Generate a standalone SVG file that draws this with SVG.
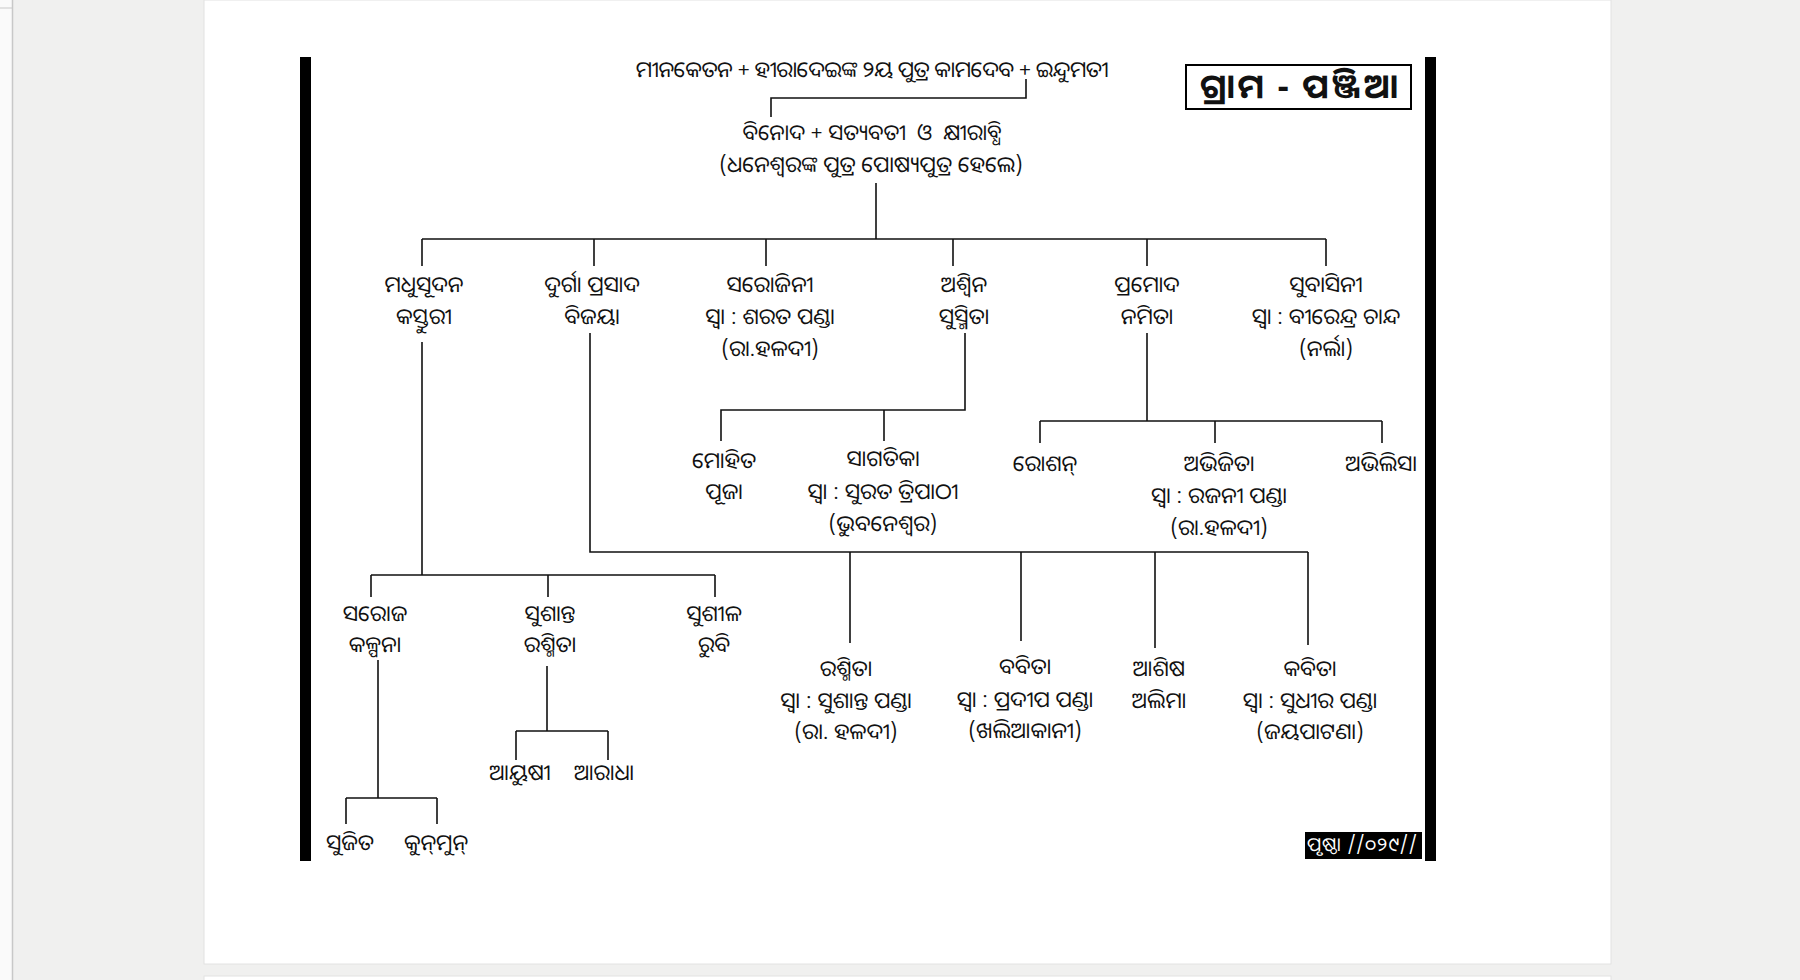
<svg xmlns="http://www.w3.org/2000/svg" width="1800" height="980" viewBox="0 0 1800 980">
<style>
text{font-family:"Noto Sans Oriya","Noto Sans Odia","Lohit Odia","Noto Sans",sans-serif;font-size:22px;fill:#111;text-anchor:middle}
.ln{fill:none;stroke:#111;stroke-width:1.6}
.title{font-size:34px;font-weight:bold}
.pg{font-size:19px;fill:#fff}
</style>
<rect x="0" y="0" width="1800" height="980" fill="#f0f0ef"/>
<rect x="0" y="0" width="12" height="980" fill="#fafafa"/>
<line x1="12.5" y1="0" x2="12.5" y2="980" stroke="#c8c8c8" stroke-width="1.5"/>
<line x1="0" y1="8" x2="12" y2="8" stroke="#c8c8c8" stroke-width="1"/>
<rect x="204" y="0" width="1407" height="964" fill="#ffffff" stroke="#e2e2e2" stroke-width="1"/>
<rect x="204" y="976" width="1407" height="10" fill="#ffffff" stroke="#e2e2e2" stroke-width="1"/>
<rect x="300" y="57" width="11" height="804" fill="#000"/>
<rect x="1425" y="57" width="11" height="804" fill="#000"/>
<g id="title">
<rect x="1186" y="65" width="225" height="44" fill="#fff" stroke="#000" stroke-width="2"/>
<text class="title" x="1299" y="98" textLength="198" lengthAdjust="spacing">ଗ୍ରାମ - ପଞ୍ଜିଆ</text>
</g>
<g id="page">
<rect x="1305" y="832" width="117" height="27" fill="#000"/>
<text class="pg" x="1362" y="851" textLength="110" lengthAdjust="spacing">ପୃଷ୍ଠା //୦୨୯//</text>
</g>
<g id="connectors">
<path class="ln" d="M1026,79 V98 H771 V117"/>
<path class="ln" d="M876,183 V239 M422,239 H1326 M422,239 V266 M594,239 V266 M766,239 V266 M953,239 V266 M1147,239 V266 M1326,239 V266"/>
<path class="ln" d="M422,342 V575 M371,575 H715 M371,575 V597 M548,575 V597 M715,575 V597"/>
<path class="ln" d="M590,333 V552 H1308 M850,552 V643 M1021,552 V641 M1155,552 V648 M1308,552 V645"/>
<path class="ln" d="M965,333 V410 H721 V441 M884,410 V441"/>
<path class="ln" d="M1147,333 V421 M1040,421 H1382 M1040,421 V443 M1215,421 V443 M1382,421 V443"/>
<path class="ln" d="M378,660 V798 M346,798 H437 M346,798 V824 M437,798 V824"/>
<path class="ln" d="M547,666 V731 M516,731 H608 M516,731 V760 M608,731 V760"/>
</g>
<g id="n-top">
<text x="872" y="77" textLength="473" lengthAdjust="spacing">ମୀନକେତନ + ହୀରାଦେଇଙ୍କ ୨ୟ ପୁତ୍ର କାମଦେବ + ଇନ୍ଦୁମତୀ</text>
</g>
<g id="n-binod">
<text x="872" y="140" textLength="259" lengthAdjust="spacingAndGlyphs" xml:space="preserve">ବିନୋଦ + ସତ୍ୟବତୀ  ଓ  କ୍ଷୀରାବ୍ଧି</text>
<text x="871" y="172">(ଧନେଶ୍ୱରଙ୍କ ପୁତ୍ର ପୋଷ୍ୟପୁତ୍ର ହେଲେ)</text>
</g>
<g id="n-madhusudan">
<text x="424" y="292">ମଧୁସୂଦନ</text>
<text x="424" y="324">କସ୍ତୁରୀ</text>
</g>
<g id="n-durga">
<text x="592" y="292">ଦୁର୍ଗା ପ୍ରସାଦ</text>
<text x="592" y="324">ବିଜୟା</text>
</g>
<g id="n-sarojini">
<text x="770" y="292">ସରୋଜିନୀ</text>
<text x="770" y="324">ସ୍ୱା : ଶରତ ପଣ୍ଡା</text>
<text x="770" y="356">(ରା.ହଳଦୀ)</text>
</g>
<g id="n-ashwin">
<text x="964" y="292">ଅଶ୍ୱିନ</text>
<text x="964" y="324">ସୁସ୍ମିତା</text>
</g>
<g id="n-pramod">
<text x="1147" y="292">ପ୍ରମୋଦ</text>
<text x="1147" y="324">ନମିତା</text>
</g>
<g id="n-subasini">
<text x="1326" y="292">ସୁବାସିନୀ</text>
<text x="1326" y="324">ସ୍ୱା : ବୀରେନ୍ଦ୍ର ଚାନ୍ଦ</text>
<text x="1326" y="356">(ନର୍ଲା)</text>
</g>
<g id="n-mohit">
<text x="724" y="468">ମୋହିତ</text>
<text x="724" y="499">ପୂଜା</text>
</g>
<g id="n-sagatika">
<text x="883" y="466">ସାଗତିକା</text>
<text x="883" y="499">ସ୍ୱା : ସୁରତ ତ୍ରିପାଠୀ</text>
<text x="883" y="531">(ଭୁବନେଶ୍ୱର)</text>
</g>
<g id="n-roshan">
<text x="1045" y="471">ରୋଶନ୍</text>
</g>
<g id="n-abhijita">
<text x="1219" y="471">ଅଭିଜିତା</text>
<text x="1219" y="503">ସ୍ୱା : ରଜନୀ ପଣ୍ଡା</text>
<text x="1219" y="535">(ରା.ହଳଦୀ)</text>
</g>
<g id="n-abhilisa">
<text x="1381" y="471">ଅଭିଲିସା</text>
</g>
<g id="n-saroj">
<text x="375" y="621">ସରୋଜ</text>
<text x="375" y="652">କଳ୍ପନା</text>
</g>
<g id="n-sushanta">
<text x="550" y="621">ସୁଶାନ୍ତ</text>
<text x="550" y="652">ରଶ୍ମିତା</text>
</g>
<g id="n-sushil">
<text x="714" y="621">ସୁଶୀଳ</text>
<text x="714" y="652">ରୁବି</text>
</g>
<g id="n-rashmita">
<text x="846" y="676">ରଶ୍ମିତା</text>
<text x="846" y="708">ସ୍ୱା : ସୁଶାନ୍ତ ପଣ୍ଡା</text>
<text x="846" y="739">(ରା. ହଳଦୀ)</text>
</g>
<g id="n-babita">
<text x="1025" y="674">ବବିତା</text>
<text x="1025" y="707">ସ୍ୱା : ପ୍ରଦୀପ ପଣ୍ଡା</text>
<text x="1025" y="738">(ଖଲିଆକାନୀ)</text>
</g>
<g id="n-ashish">
<text x="1159" y="676">ଆଶିଷ</text>
<text x="1159" y="708">ଅଲିମା</text>
</g>
<g id="n-kabita">
<text x="1310" y="676">କବିତା</text>
<text x="1310" y="708">ସ୍ୱା : ସୁଧୀର ପଣ୍ଡା</text>
<text x="1310" y="739">(ଜୟପାଟଣା)</text>
</g>
<g id="n-ayushi">
<text x="520" y="780">ଆୟୁଷୀ</text>
</g>
<g id="n-aradha">
<text x="604" y="780">ଆରାଧା</text>
</g>
<g id="n-sujit">
<text x="350" y="850">ସୁଜିତ</text>
</g>
<g id="n-kunmun">
<text x="436" y="850">କୁନ୍‌ମୁନ୍‌</text>
</g>
</svg>
